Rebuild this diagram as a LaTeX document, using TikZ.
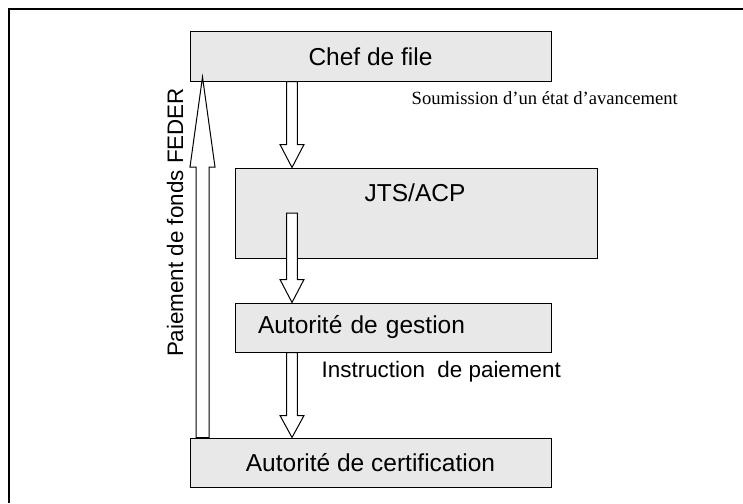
\documentclass[tikz,border=0pt]{standalone}
\usepackage{fontspec}
\setmainfont{Liberation Sans}
\newfontfamily\serifface{Liberation Serif}
\usetikzlibrary{calc}
\definecolor{boxgray}{RGB}{232,232,232}
\tikzset{
  box/.style={draw=black, line width=1pt, fill=boxgray, inner sep=0pt,
    font=\fontsize{24.5}{28}\selectfont},
  lbl/.style={inner sep=0pt, font=\fontsize{22.4}{26}\selectfont},
  serlbl/.style={inner sep=0pt, font=\serifface\fontsize{18.6}{22}\selectfont},
  arrowbody/.style={draw=black, line width=1pt, fill=white, line join=miter},
  frameline/.style={draw=black, line width=2pt}
}
% vertical block arrow: #1 shaft half-width, #2 head half-width, #3 head length, #4 start, #5 tip
\newcommand\myblockarrow[5]{%
  \draw[arrowbody] let \p1=(#4), \p2=(#5), \n1={sign(\y2-\y1)} in
    (\x1-#1,\y1) -- (\x1-#1,\y2-\n1*#3) -- (\x1-#2,\y2-\n1*#3) -- (\x1,\y2)
    -- (\x1+#2,\y2-\n1*#3) -- (\x1+#1,\y2-\n1*#3) -- (\x1+#1,\y1) -- cycle;}
\begin{document}
\begin{tikzpicture}[x=1pt,y=-1pt]
\useasboundingbox (0,0) rectangle (743,503);
% frame (open on the right and bottom)
\coordinate (fbl) at (8.8,503);
\coordinate (ftl) at (8.8,8.8);
\coordinate (ftr) at (743,8.8);
\draw[frameline] (fbl) -- (ftl) -- (ftr);
% boxes
\node[box, minimum width=361pt, minimum height=49pt] (chef) at (370.5,56.5) {Chef de file};
\node[box, minimum width=362pt, minimum height=90pt] (jts) at (416,213) {};
\node[lbl, font=\fontsize{24.5}{28}\selectfont] (jtstext) at (415,192.5) {JTS/ACP};
\node[box, minimum width=316pt, minimum height=49pt, text width=270pt, align=left, inner xsep=23pt] (gest) at (393,327.5) {Autorité de gestion};
\node[box, minimum width=361pt, minimum height=49pt] (cert) at (370.5,462.5) {Autorité de certification};
% arrow axes
\coordinate (axd) at (292,0);
\coordinate (axu) at (202.5,0);
\coordinate (jstart) at (292,213);
\coordinate (uptip) at (202.5,77);
% down arrows
\myblockarrow{5.3pt}{12pt}{23pt}{chef.south -| axd}{jts.north -| axd}
\myblockarrow{5.3pt}{12pt}{23pt}{jstart}{gest.north -| axd}
\myblockarrow{5.3pt}{12pt}{22pt}{gest.south -| axd}{cert.north -| axd}
% up arrow
\myblockarrow{6.5pt}{12.5pt}{90pt}{cert.north -| axu}{uptip}
% labels
\node[serlbl, anchor=west] (soum) at (411.5,98) {Soumission d’un état d’avancement};
\node[lbl, anchor=west] (instr) at (321.5,371.5) {Instruction\ \ de paiement};
\node[lbl, rotate=90] (feder) at (175,222.5) {Paiement de fonds FEDER};
\end{tikzpicture}
\end{document}
